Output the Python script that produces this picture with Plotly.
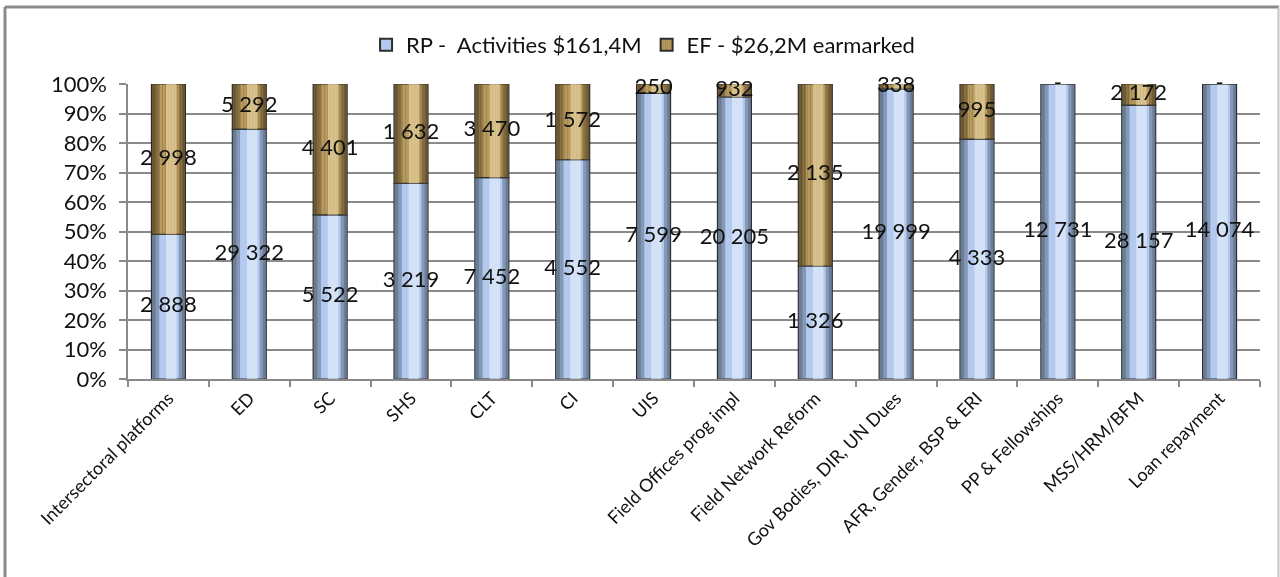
import numpy as np
import plotly.graph_objects as go

# Budget split by programme sector: regular programme vs extrabudgetary (earmarked)
categories = [
    "Intersectoral platforms", "ED", "SC", "SHS", "CLT", "CI", "UIS",
    "Field Offices prog impl", "Field Network Reform", "Gov Bodies, DIR, UN Dues",
    "AFR, Gender, BSP & ERI", "PP & Fellowships", "MSS/HRM/BFM", "Loan repayment",
]
rp_values = [2888, 29322, 5522, 3219, 7452, 4552, 7599, 20205, 1326, 19999, 4333, 12731, 28157, 14074]
ef_values = [2998, 5292, 4401, 1632, 3470, 1572, 250, 932, 2135, 338, 995, 0, 2172, 0]

rp_name = "RP -\u00a0\u00a0Activities $161,4M"
ef_name = "EF - $26,2M earmarked"

rp = np.array(rp_values, dtype=float)
ef = np.array(ef_values, dtype=float)
total = rp + ef
rp_share = rp / total
ef_share = ef / total


def fmt(v):
    if v == 0:
        return "-"
    return f"{int(v):,}".replace(",", " ")


FONT = "Lato"
BAR_W = 0.42

fig = go.Figure()


def cylinder(y, base, body, dark, light, name, pattern=None):
    """Stack of overlaid bars that gives each segment a rounded, shaded look."""
    main = dict(
        x=categories, y=y, base=base, width=BAR_W, offset=-BAR_W / 2,
        marker=dict(color=body, line=dict(color="#2e2e2e", width=1.2)),
        name=name, hoverinfo="skip",
    )
    if pattern:
        main["marker"]["pattern"] = pattern
    fig.add_trace(go.Bar(**main))
    # darker left and right flanks
    for w, off, c in [(0.09, -BAR_W / 2 + 0.006, dark), (0.045, -BAR_W / 2 + 0.006, dark),
                      (0.075, BAR_W / 2 - 0.081, dark), (0.035, BAR_W / 2 - 0.041, dark)]:
        fig.add_trace(go.Bar(
            x=categories, y=y, base=base, width=w, offset=off,
            marker=dict(color=c, line=dict(width=0)), opacity=0.45,
            showlegend=False, hoverinfo="skip",
        ))
    # highlight slightly right of centre
    fig.add_trace(go.Bar(
        x=categories, y=y, base=base, width=0.13, offset=-0.03,
        marker=dict(color=light, line=dict(width=0)), opacity=0.6,
        showlegend=False, hoverinfo="skip",
    ))


cylinder(rp_share, np.zeros_like(rp_share), "#b3caee", "#4d5a70", "#eaf2fd", rp_name)
cylinder(ef_share, rp_share, "#b89a5e", "#4f3f22", "#efdcaa", ef_name,
         pattern=dict(shape="|", size=3, solidity=0.25, fgcolor="#8a7040", fgopacity=0.6))

# Value labels centred on each segment
fig.add_trace(go.Scatter(
    x=categories, y=rp_share / 2, mode="text", text=[fmt(v) for v in rp_values],
    textfont=dict(family=FONT, size=22, color="#111111"),
    showlegend=False, hoverinfo="skip", cliponaxis=False,
))
fig.add_trace(go.Scatter(
    x=categories, y=rp_share + ef_share / 2, mode="text", text=[fmt(v) for v in ef_values],
    textfont=dict(family=FONT, size=22, color="#111111"),
    showlegend=False, hoverinfo="skip", cliponaxis=False,
))

L, R, T, B = 128, 20, 84, 198
W, H = 1280, 577
pw, ph = W - L - R, H - T - B


def px_x(px):
    return (px - L) / pw


def px_y(py):
    return (H - B - py) / ph


fig.update_layout(
    width=W, height=H,
    margin=dict(l=L, r=R, t=T, b=B),
    paper_bgcolor="white", plot_bgcolor="white",
    barmode="overlay",
    font=dict(family=FONT, color="#111111"),
    legend=dict(
        orientation="h", x=0.455, xanchor="center", y=px_y(45), yanchor="middle",
        font=dict(family=FONT, size=22, color="#111111"),
        itemsizing="constant", traceorder="normal",
    ),
    xaxis=dict(
        type="category", tickson="boundaries", ticks="outside", ticklen=6,
        tickcolor="#8a8a8a", tickwidth=1.5, showline=True, linecolor="#8a8a8a",
        linewidth=1.5, showgrid=False, tickangle=-45,
        tickfont=dict(family=FONT, size=18, color="#111111"),
        range=[-0.5, len(categories) - 0.5],
    ),
    yaxis=dict(
        range=[0, 1], dtick=0.1, tickformat=".0%", showgrid=True,
        gridcolor="#8a8a8a", gridwidth=1.5, ticks="outside", ticklen=7,
        tickcolor="#8a8a8a", tickwidth=1.5, showline=True, linecolor="#8a8a8a",
        linewidth=1.5, zeroline=False, ticklabelstandoff=8,
        tickfont=dict(family=FONT, size=22, color="#111111"),
    ),
    shapes=[
        dict(type="line", xref="paper", yref="paper", x0=px_x(5), x1=px_x(1279),
             y0=px_y(7), y1=px_y(7), line=dict(color="#8a8a8a", width=3)),
        dict(type="line", xref="paper", yref="paper", x0=px_x(5), x1=px_x(5),
             y0=px_y(7), y1=px_y(590), line=dict(color="#8a8a8a", width=3)),
        dict(type="line", xref="paper", yref="paper", x0=px_x(1278.5), x1=px_x(1278.5),
             y0=px_y(7), y1=px_y(590), line=dict(color="#c4c4c4", width=2)),
    ],
)

fig.write_html("out.html")
